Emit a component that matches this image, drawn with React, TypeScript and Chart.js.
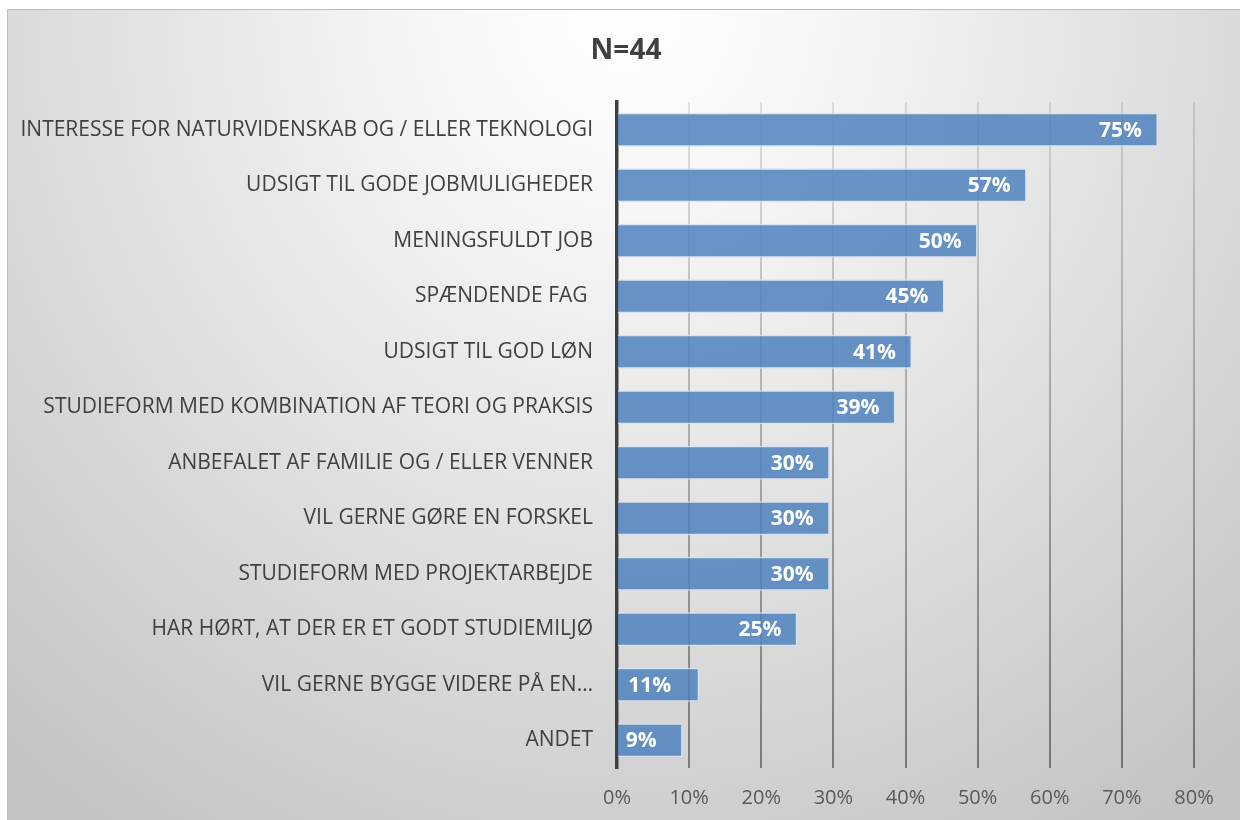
import React, { useEffect, useRef } from "react";
import { Chart, registerables } from "chart.js";

Chart.register(...registerables);

const categories = [
  "INTERESSE FOR NATURVIDENSKAB OG / ELLER TEKNOLOGI",
  "UDSIGT TIL GODE JOBMULIGHEDER",
  "MENINGSFULDT JOB",
  "SPÆNDENDE FAG ",
  "UDSIGT TIL GOD LØN",
  "STUDIEFORM MED KOMBINATION AF TEORI OG PRAKSIS",
  "ANBEFALET AF FAMILIE OG / ELLER VENNER",
  "VIL GERNE GØRE EN FORSKEL",
  "STUDIEFORM MED PROJEKTARBEJDE",
  "HAR HØRT, AT DER ER ET GODT STUDIEMILJØ",
  "VIL GERNE BYGGE VIDERE PÅ EN…",
  "ANDET",
];

const values = [75, 56.8, 50, 45.4, 40.9, 38.6, 29.5, 29.5, 29.5, 25, 11.4, 9.1];

const xTicks = [0, 10, 20, 30, 40, 50, 60, 70, 80];

const titleText = "N=44";

const FONT = "'Open Sans', sans-serif";

const dataLabelPlugin = {
  id: "dataLabels",
  afterDatasetsDraw(chart: any) {
    const ctx = chart.ctx;
    const meta = chart.getDatasetMeta(0);
    ctx.save();
    ctx.fillStyle = "#ffffff";
    ctx.font = `bold 21px ${FONT}`;
    ctx.textBaseline = "middle";
    meta.data.forEach((bar: any, i: number) => {
      const text = Math.round(values[i]) + "%";
      const w = bar.x - bar.base;
      if (w < 120) {
        ctx.textAlign = "center";
        ctx.fillText(text, (bar.x + bar.base) / 2 - 9, bar.y + 1);
      } else {
        ctx.textAlign = "right";
        ctx.fillText(text, bar.x - 16, bar.y + 1);
      }
    });
    ctx.restore();
  },
};

const titlePlugin = {
  id: "centerTitle",
  afterDraw(chart: any) {
    const ctx = chart.ctx;
    ctx.save();
    ctx.fillStyle = "#404040";
    ctx.font = `bold 28px ${FONT}`;
    ctx.textAlign = "center";
    ctx.textBaseline = "middle";
    ctx.fillText(titleText, chart.width / 2 + 2, 41);
    ctx.restore();
  },
};

export default function App() {
  const ref = useRef<HTMLCanvasElement>(null);
  useEffect(() => {
    if (!ref.current) return;
    const chart = new Chart(ref.current, {
      type: "bar",
      data: {
        labels: categories,
        datasets: [
          {
            data: values,
            backgroundColor: "rgba(79,129,189,0.85)",
            borderColor: "rgba(214,226,242,0.9)",
            borderWidth: 1.5,
            categoryPercentage: 1,
            barPercentage: 0.61,
          },
        ],
      },
      options: {
        indexAxis: "y",
        animation: false,
        responsive: false,
        maintainAspectRatio: false,
        layout: { padding: { left: 0, right: 46, top: 92, bottom: 0 } },
        plugins: {
          legend: { display: false },
          tooltip: { enabled: false },
          title: { display: false },
        },
        scales: {
          x: {
            min: 0,
            max: 80,
            afterBuildTicks(scale: any) {
              scale.ticks = xTicks.map((v) => ({ value: v }));
            },
            afterFit(scale: any) {
              scale.height = 52;
            },
            ticks: {
              color: "#595959",
              font: { family: FONT, size: 20 },
              padding: 18,
              callback: (v: any) => v + "%",
            },
            grid: {
              drawTicks: false,
              lineWidth: 2,
              color: (c: any) => {
                const ch = c.chart;
                const area = ch.chartArea;
                if (!area) return "rgba(0,0,0,0.2)";
                const g = ch.ctx.createLinearGradient(0, area.top, 0, area.bottom);
                g.addColorStop(0, "rgba(0,0,0,0.10)");
                g.addColorStop(1, "rgba(0,0,0,0.42)");
                return g;
              },
            },
            border: { display: false },
          },
          y: {
            afterFit(scale: any) {
              scale.width = 609;
            },
            ticks: {
              color: "#404040",
              font: { family: FONT, size: 21 },
              padding: 24,
              autoSkip: false,
            },
            grid: { display: false, drawTicks: false },
            border: { display: true, color: "#404040", width: 3.5 },
          },
        },
      },
      plugins: [dataLabelPlugin, titlePlugin],
    });
    return () => chart.destroy();
  }, []);

  return (
    <div
      style={{
        position: "absolute",
        left: 7,
        top: 9,
        width: 1233,
        height: 811,
        boxSizing: "border-box",
        borderTop: "1px solid #bdbdbd",
        borderLeft: "1px solid #bdbdbd",
        background:
          "radial-gradient(ellipse 75% 120% at 50% 0%, #ffffff 0%, #f4f4f4 25%, #dedede 60%, #c4c4c4 100%)",
        overflow: "hidden",
      }}
    >
      <canvas ref={ref} width={1232} height={810} style={{ display: "block" }} />
    </div>
  );
}
